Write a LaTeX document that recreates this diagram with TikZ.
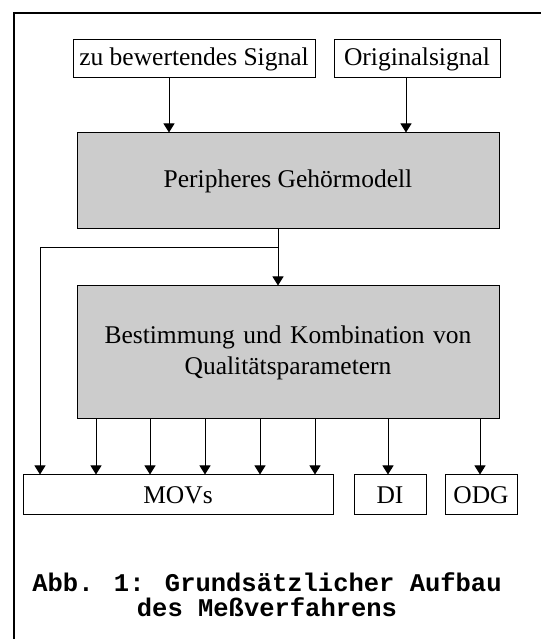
\documentclass[tikz,border=0pt]{standalone}
\usepackage{fontspec}
\setmainfont{Liberation Serif}
\newfontfamily\captionfont{Liberation Mono}
\usetikzlibrary{arrows.meta,positioning}
\tikzstyle{block} = [rectangle, draw, line width=1pt, inner sep=0pt, minimum height=38pt]
\tikzstyle{gbox} = [block, fill=gray!40, minimum width=422pt]
\tikzstyle{outbox} = [block, minimum height=40pt]
\tikzstyle{arr} = [line width=1pt, -{Triangle[width=11pt,length=9pt]}]

\begin{document}
\begin{tikzpicture}[x=1pt, y=1pt, node distance=18pt, font=\fontsize{25.5}{31}\selectfont]
      \useasboundingbox (0,0) rectangle (541,639);
      \draw[line width=2pt] (14,0) -- (14,626) -- (541,626);
      \node[block, minimum width=242pt] at (194,580) (sig) {zu bewertendes Signal};
      \node[block, minimum width=166pt, right=of sig] (orig) {Originalsignal};
      \node[gbox, minimum height=96pt] at (288,458) (gm) {Peripheres Gehörmodell};
      \node[gbox, minimum height=133pt, below=56pt of gm, text width=410pt, align=center] (qp)
        {Bestimmung und Kombination von\\Qualitätsparametern};
      \node[outbox, minimum width=310pt] at (178,144) (movs) {MOVs};
      \node[outbox, minimum width=72pt, right=20pt of movs] (di) {DI};
      \node[outbox, minimum width=72pt, right=of di] (odg) {ODG};
      \node[align=center, font=\fontsize{25.5}{25}\selectfont\captionfont\bfseries] at (267,44) (cap)
        {Abb. 1: Grundsätzlicher Aufbau\\des Meßverfahrens};
      \coordinate (split) at (278,391);
      \draw[arr] (169,0 |- sig.south) -- (169,0 |- gm.north);
      \draw[arr] (406,0 |- orig.south) -- (406,0 |- gm.north);
      \draw[arr] (split |- gm.south) -- (split |- qp.north);
      \draw[arr] (split) -| (40,0 |- movs.north);
      \foreach \x in {96,150,205,260,315}
        \draw[arr] (\x,0 |- qp.south) -- (\x,0 |- movs.north);
      \draw[arr] (388,0 |- qp.south) -- (388,0 |- di.north);
      \draw[arr] (480,0 |- qp.south) -- (480,0 |- odg.north);
    \end{tikzpicture}
\end{document}
